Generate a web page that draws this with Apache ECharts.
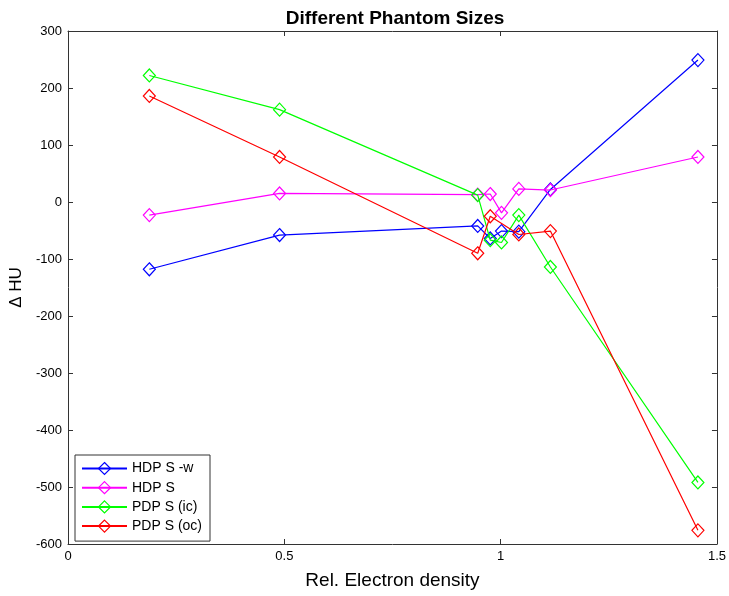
<!DOCTYPE html>
<html>
<head>
<meta charset="utf-8">
<script src="https://cdn.jsdelivr.net/npm/echarts@6/dist/echarts.min.js"></script>
<style>html,body{margin:0;padding:0;background:#fff;}#c{width:729px;height:596px;}</style>
</head>
<body>
<div id="c"></div>
<script>
const seriesNames = ['HDP S -w', 'HDP S', 'PDP S (ic)', 'PDP S (oc)'];
const xBlue  = [0.188, 0.489, 0.947, 0.976, 1.002, 1.042, 1.115, 1.456];
const yBlue  = [-118, -58, -42, -64, -51, -52, 22, 249];
const xMag   = [0.188, 0.489, 0.947, 0.976, 1.002, 1.042, 1.115, 1.456];
const yMag   = [-23, 15, 13, 14, -19, 23, 21, 79];
const xGreen = [0.188, 0.489, 0.947, 0.976, 1.002, 1.042, 1.115, 1.456];
const yGreen = [222, 162, 12, -67, -71, -23, -114, -492];
const xRed   = [0.188, 0.489, 0.947, 0.976, 1.042, 1.115, 1.456];
const yRed   = [186, 79, -90, -25, -57, -51, -576];
const xTicks = [0, 0.5, 1, 1.5];
const yTicks = [-600, -500, -400, -300, -200, -100, 0, 100, 200, 300];

const colors = ['#0000ff', '#ff00ff', '#00ff00', '#ff0000'];
const xs = [xBlue, xMag, xGreen, xRed];
const ys = [yBlue, yMag, yGreen, yRed];

const font = 'Liberation Sans, Arial, Helvetica, sans-serif';
const chart = echarts.init(document.getElementById('c'), null, {renderer: 'canvas'});

function mkX(pos, show) {
  return {
    type: 'value', position: pos, min: xTicks[0], max: xTicks[xTicks.length - 1], interval: 0.5,
    axisLine: {show: true, onZero: false, lineStyle: {color: '#333', width: 1}},
    axisTick: {show: true, inside: true, length: 5, lineStyle: {color: '#333'}},
    axisLabel: {show: show, color: '#000', fontSize: 13, fontFamily: font, margin: 6},
    splitLine: {show: false},
    name: show ? 'Rel. Electron density' : '', nameLocation: 'middle', nameGap: 27,
    nameTextStyle: {color: '#000', fontSize: 19, fontFamily: font}
  };
}
function mkY(pos, show) {
  return {
    type: 'value', position: pos, min: yTicks[0], max: yTicks[yTicks.length - 1], interval: 100,
    axisLine: {show: true, onZero: false, lineStyle: {color: '#333', width: 1}},
    axisTick: {show: true, inside: true, length: 5, lineStyle: {color: '#333'}},
    axisLabel: {show: show, color: '#000', fontSize: 13, fontFamily: font, margin: 6},
    splitLine: {show: false},
    name: show ? 'Δ HU' : '', nameLocation: 'middle', nameGap: 30, nameRotate: 90,
    nameTextStyle: {color: '#000', fontSize: 17, fontFamily: font}
  };
}

const series = seriesNames.map((n, i) => ({
  name: n, type: 'line',
  data: xs[i].map((x, j) => [x, ys[i][j]]),
  symbol: 'diamond', symbolSize: [12, 13],
  lineStyle: {color: colors[i], width: 1.2},
  itemStyle: {color: 'rgba(255,255,255,0)', borderColor: colors[i], borderWidth: 1.2},
  emphasis: {disabled: true},
  animation: false, z: 2 + i
}));

chart.setOption({
  animation: false,
  backgroundColor: '#fff',
  title: {
    text: 'Different Phantom Sizes', left: 390, top: 4, textAlign: 'center',
    textStyle: {fontSize: 19, fontWeight: 'bold', color: '#000', fontFamily: font}
  },
  grid: {left: 68, right: 10, top: 31, bottom: 52, containLabel: false},
  xAxis: [mkX('bottom', true), mkX('top', false)],
  yAxis: [mkY('left', true), mkY('right', false)],
  legend: {
    orient: 'vertical', left: 75, top: 455,
    data: seriesNames.map((n, i) => ({
      name: n,
      itemStyle: {color: 'rgba(255,255,255,0)', borderColor: colors[i], borderWidth: 1.2}
    })),
    itemWidth: 45, itemHeight: 15, itemGap: 5.2,
    padding: [6.5, 8, 8, 6],
    borderColor: '#333', borderWidth: 1, backgroundColor: '#fff',
    textStyle: {fontSize: 14, color: '#000', fontFamily: font},
    selectedMode: false
  },
  series: series
});
</script>
</body>
</html>
